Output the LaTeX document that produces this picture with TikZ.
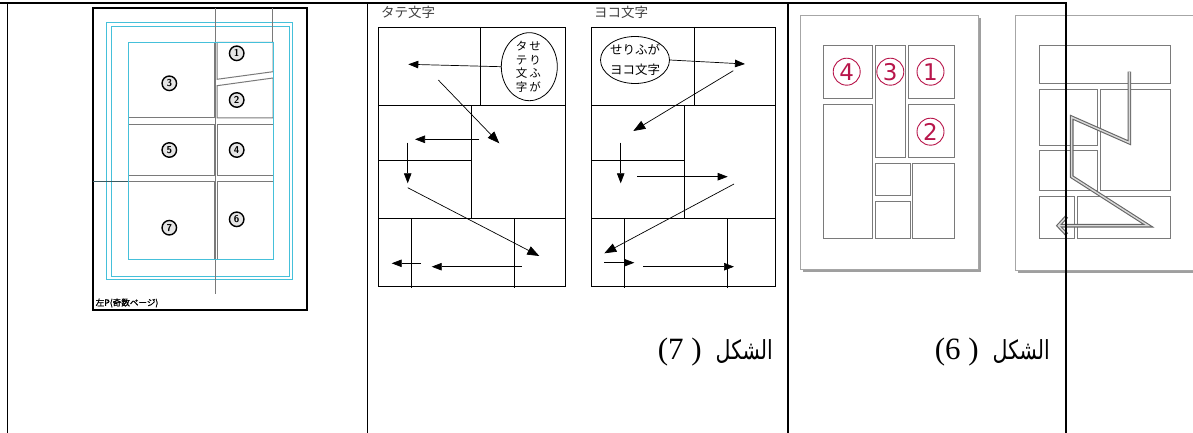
\documentclass[tikz,border=0pt]{standalone}
\usepackage{fontspec}
\usetikzlibrary{arrows.meta,shapes.geometric}
\TeXXeTstate=1
\newfontfamily\jpfont{Noto Sans CJK JP}
\newfontfamily\jpbold[FakeBold=1.5]{Noto Sans CJK JP}
\newfontfamily\arabicfont[Script=Arabic]{DejaVu Sans}
\newfontfamily\serifnum{Liberation Serif}
\newfontfamily\dvs{DejaVu Sans}
\definecolor{cyanl}{HTML}{45C0DA}
\definecolor{crim}{HTML}{B8164B}
\definecolor{fgray}{HTML}{7A7A7A}
\definecolor{framedark}{HTML}{3A5A60}
\tikzset{
  tbl/.style={line width=1.6pt, black},
  pline/.style={line width=0.9pt, black},
  arr/.style={line width=0.7pt, -{Triangle[length=10pt,width=7.5pt]}},
  bigarr/.style={line width=0.7pt, -{Triangle[length=12pt,width=9pt]}},
  cnum/.style={circle, draw=black, line width=1.4pt, fill=gray!20, minimum size=14.5pt, inner sep=0pt, font=\sffamily\bfseries\fontsize{10}{10}\selectfont},
  rnum/.style={circle, draw=crim, line width=0.9pt, minimum size=27pt, inner sep=0pt, text=crim, font=\dvs\fontsize{23}{23}\selectfont},
  p1frame/.style={draw=fgray, line width=1pt},
  mframe/.style={draw=fgray, line width=0.8pt},
  zpath/.style={line join=miter},
  jplabel/.style={font=\jpfont\fontsize{13.5}{14}\selectfont, text=black!75, inner sep=0pt},
  bubtext/.style={font=\jpfont\fontsize{11.5}{13.5}\selectfont, align=center, inner sep=0pt}
}
\begin{document}
\begin{tikzpicture}[x=1pt,y=-1pt]
\useasboundingbox (0,0) rectangle (1193,433);
\fill[white] (0,0) rectangle (1193,433);

% ---------- Panel 1 ----------
\draw[black, line width=1.8pt] (92.7,8.3) rectangle (307.3,310);
\draw[cyanl, line width=0.9pt] (106.7,22.3) rectangle (292.7,279.3);
\draw[cyanl, line width=0.9pt] (111,26) rectangle (289,276);
\draw[fgray, line width=1pt] (215.5,8.3) -- (215.5,294);
\draw[fgray, line width=1pt] (272.7,8.3) -- (272.7,42.3);
\draw[framedark, line width=1pt] (92.7,181) -- (128,181);
\draw[p1frame] (128,42.3) rectangle (214,118);
\draw[p1frame] (217,42.3) -- (273,42.3) -- (273,71.7) -- (217,79.3) -- cycle;
\draw[p1frame] (217,85.7) -- (273,78) -- (273,118) -- (217,118) -- cycle;
\draw[p1frame] (128,124.3) rectangle (214,175);
\draw[p1frame] (217,124.3) rectangle (273,175);
\draw[p1frame] (128,181) rectangle (214,259.3);
\draw[p1frame] (217,181) rectangle (273,259.3);
\draw[framedark, line width=0.8pt] (128,42.3) -- (128,259.3) -- (273,259.3);
\draw[cyanl, line width=0.9pt] (128,42.3) rectangle (273,259.3);
\node[cnum] (n1) at (236.7,53.3) {1};
\node[cnum] (n3) at (169.3,83.3) {3};
\node[cnum] (n2) at (236.7,100) {2};
\node[cnum] (n5) at (169.3,150) {5};
\node[cnum] (n4) at (236.7,150) {4};
\node[cnum] (n7) at (169.3,227.7) {7};
\node[cnum] (n6) at (236.7,219.3) {6};
\node[anchor=west, inner sep=0pt, font=\jpbold\fontsize{8.6}{9}\selectfont] (p1lab) at (95.5,303) {左P(奇数ページ)};

% ---------- Panel 2 (tate) ----------
\node[jplabel, anchor=west] (tate) at (381,12.5) {タテ文字};
\draw[pline] (378.3,27) rectangle (565,286);
\draw[pline] (378.3,105.3) -- (565,105.3);
\draw[pline] (480.7,27) -- (480.7,105.3);
\draw[pline] (471.7,105.3) -- (471.7,218.3);
\draw[pline] (378.3,160) -- (471.7,160);
\draw[pline] (378.3,218.3) -- (565,218.3);
\draw[pline] (411.3,218.3) -- (411.3,288);
\draw[pline] (514.7,218.3) -- (514.7,288);
\node[draw, ellipse, line width=0.8pt, minimum width=56pt, minimum height=68pt, inner sep=0pt] (bub1) at (529.3,66.7) {};
\node[bubtext] (bub1a) at (535,67) {せ\\り\\ふ\\が};
\node[bubtext] (bub1b) at (521.7,67) {タ\\テ\\文\\字};
\coordinate (a1e) at (408.3,64.3);
\coordinate (a2s) at (438.3,80);   \coordinate (a2e) at (499.3,143.3);
\coordinate (a3s) at (479.3,139.3); \coordinate (a3e) at (415,139.3);
\coordinate (a4s) at (407.7,142.7); \coordinate (a4e) at (407.7,183.3);
\coordinate (a5s) at (407.7,187.7); \coordinate (a5e) at (539.3,256);
\coordinate (a6s) at (421,263.3);  \coordinate (a6e) at (391.7,263.3);
\coordinate (a7s) at (521.7,266.7); \coordinate (a7e) at (431.7,266.7);
\draw[arr] (bub1.west) -- (a1e);
\draw[bigarr] (a2s) -- (a2e);
\draw[arr] (a3s) -- (a3e);
\draw[arr] (a4s) -- (a4e);
\draw[bigarr] (a5s) -- (a5e);
\draw[arr] (a6s) -- (a6e);
\draw[arr] (a7s) -- (a7e);

% ---------- Panel 3 (yoko) ----------
\node[jplabel, anchor=west] (yoko) at (594,12.5) {ヨコ文字};
\draw[pline] (591.7,27) rectangle (775,286);
\draw[pline] (694,27) -- (694,105.3);
\draw[pline] (591.7,105.3) -- (775,105.3);
\draw[pline] (684.3,105.3) -- (684.3,218.3);
\draw[pline] (591.7,160) -- (684.3,160);
\draw[pline] (591.7,218.3) -- (775,218.3);
\draw[pline] (624.3,218.3) -- (624.3,288);
\draw[pline] (727.7,218.3) -- (727.7,288);
\node[draw, ellipse, line width=0.8pt, minimum width=69pt, minimum height=47pt, inner sep=0pt] (bub2) at (635,60) {};
\node[bubtext, font=\jpfont\fontsize{12.5}{20}\selectfont] (bub2t) at (635,60) {せりふが\\ヨコ文字};
\coordinate (b1e) at (745,64);
\coordinate (b2s) at (733.3,70.7); \coordinate (b2e) at (633.3,131);
\coordinate (b3s) at (620.7,142.7); \coordinate (b3e) at (620.7,183.3);
\coordinate (b4s) at (637.3,176.7); \coordinate (b4e) at (727.7,176.7);
\coordinate (b5s) at (734,184);    \coordinate (b5e) at (604.3,253.3);
\coordinate (b6s) at (604,262.7);  \coordinate (b6e) at (634.3,262.7);
\coordinate (b7s) at (643.3,266.7); \coordinate (b7e) at (734,266.7);
\draw[arr] (bub2.east) -- (b1e);
\draw[bigarr] (b2s) -- (b2e);
\draw[arr] (b3s) -- (b3e);
\draw[arr] (b4s) -- (b4e);
\draw[bigarr] (b5s) -- (b5e);
\draw[arr] (b6s) -- (b6e);
\draw[arr] (b7s) -- (b7e);

% ---------- Panel 4 ----------
\fill[gray!75] (803,18) rectangle (981,272.3);
\draw[fill=white, draw=gray!70, line width=0.8pt] (800,15) rectangle (978.3,269.3);
\draw[mframe] (823.3,45.7) rectangle (872.3,98.3);
\draw[mframe] (875,45.7) rectangle (905.7,157.3);
\draw[mframe] (908.3,45.7) rectangle (954,98.3);
\draw[mframe] (908.3,104) rectangle (954,157.3);
\draw[mframe] (823.3,104) rectangle (872.3,238.3);
\draw[mframe] (875,163.3) rectangle (910,195.7);
\draw[mframe] (875,201) rectangle (910,238.3);
\draw[mframe] (912.7,163.3) rectangle (954,238.3);
\node[rnum] (r4) at (846.7,71.7) {4};
\node[rnum] (r3) at (890.3,71.7) {3};
\node[rnum] (r1) at (930.5,71.7) {1};
\node[rnum] (r2) at (930.5,131.7) {2};

% ---------- Panel 5 ----------
\fill[gray!75] (1018,18) rectangle (1193,273);
\draw[fill=white, draw=gray!70, line width=0.8pt] (1015,15) rectangle (1196,270);
\draw[mframe] (1039.3,45.7) rectangle (1170,83.3);
\draw[mframe] (1039.3,89.3) rectangle (1097.7,145);
\draw[mframe] (1100.7,89.3) rectangle (1170,190);
\draw[mframe] (1039.3,150.7) rectangle (1097.7,190);
\draw[mframe] (1039.3,196.7) rectangle (1074,238.3);
\draw[mframe] (1077.3,196.7) rectangle (1170,238.3);
\coordinate (z1) at (1129.3,71.7);
\coordinate (z2) at (1129.3,142.7);
\coordinate (z3) at (1071.7,117.3);
\coordinate (z4) at (1071.7,176.7);
\coordinate (z5) at (1148.3,225.7);
\coordinate (z6) at (1058.3,225.7);
\coordinate (zc1) at (1066.7,216.5);
\coordinate (zc2) at (1066.7,234.5);
\draw[zpath, line width=3.6pt, black!60] (z1) -- (z2) -- (z3) -- (z4) -- (z5) -- (z6);
\draw[zpath, line width=3.6pt, black!60] (zc1) -- (z6) -- (zc2);
\draw[zpath, line width=1.4pt, gray!30] (z1) -- (z2) -- (z3) -- (z4) -- (z5) -- (z6);
\draw[zpath, line width=1.4pt, gray!30] (zc1) -- (z6) -- (zc2);

% ---------- Captions ----------
\node[anchor=east, inner sep=0pt] (cap7) at (773,352)
  {{\serifnum\fontsize{31}{31}\selectfont (7 )}\hspace{14pt}\scalebox{0.82}[1.05]{\arabicfont\fontsize{25}{30}\selectfont\beginR الشكل\endR}};
\node[anchor=east, inner sep=0pt] (cap6) at (1050,352)
  {{\serifnum\fontsize{31}{31}\selectfont (6 )}\hspace{14pt}\scalebox{0.82}[1.05]{\arabicfont\fontsize{25}{30}\selectfont\beginR الشكل\endR}};

% ---------- Table lines ----------
\draw[line width=2.4pt] (0,3) -- (1067,3);
\draw[tbl] (7.5,3) -- (7.5,433);
\draw[tbl] (367.5,3) -- (367.5,433);
\draw[tbl] (787.8,3) -- (787.8,433);
\draw[tbl] (1066,3) -- (1066,433);
\end{tikzpicture}
\end{document}
